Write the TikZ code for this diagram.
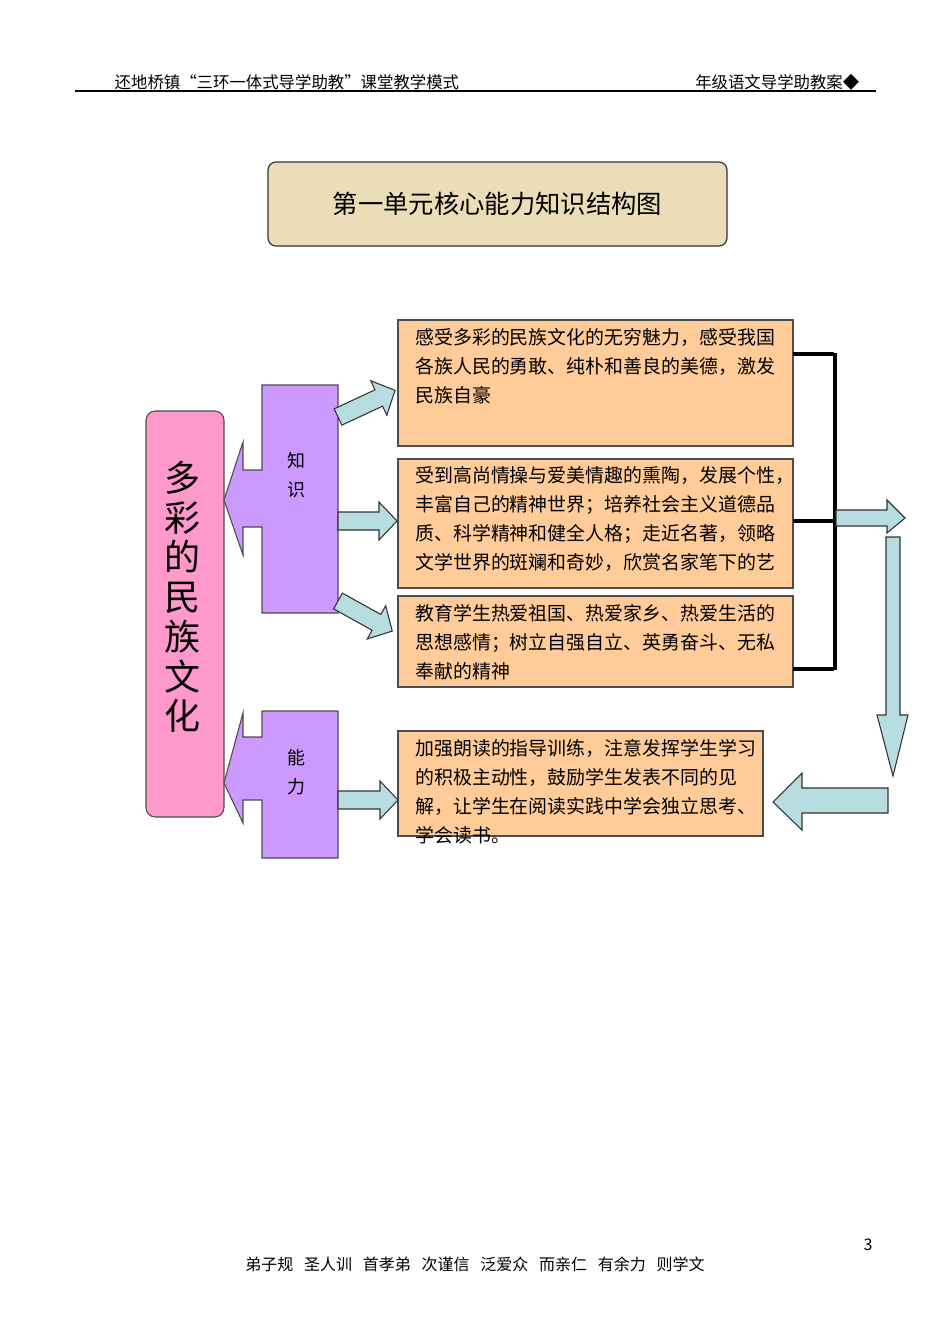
\documentclass[tikz,border=0pt]{standalone}
\usepackage{fontspec}
\setmainfont{Noto Sans CJK SC}
\usetikzlibrary{calc}
\definecolor{tan}{HTML}{EBDDB8}
\definecolor{pinkc}{HTML}{FF99CC}
\definecolor{purp}{HTML}{CC99FF}
\definecolor{orng}{HTML}{FFCC99}
\definecolor{lblue}{HTML}{B7DDE0}
\newcommand\barrow[4]{% shift, angle, length, name
\begin{scope}[shift={#1},rotate=#2]
\draw[barr] (0,-9) -- ({#3-18},-9) -- ({#3-18},-19) -- (#3,0) -- ({#3-18},19) -- ({#3-18},9) -- (0,9) -- cycle;
\coordinate (#4) at (#3,0);
\end{scope}}
\begin{document}
\begin{tikzpicture}[x=0.75pt,y=-0.75pt,
 txt/.style={font=\fontsize{14.2pt}{21.8pt}\selectfont,align=left,anchor=north west,inner sep=0},
 obox/.style={draw=black!70,fill=orng,line width=0.8pt},
 barr/.style={draw=black!80,fill=lblue,line width=0.8pt},
 callout/.style={draw=black!70,fill=purp,line width=0.8pt},
 brk/.style={line width=2.4pt}]
\useasboundingbox (0,0) rectangle (950,1343);
% header
\node[anchor=west,font=\fontsize{12.3pt}{13pt}\selectfont] (hl) at (110,82) {还地桥镇“三环一体式导学助教”课堂教学模式};
\node[anchor=east,font=\fontsize{12.3pt}{13pt}\selectfont] (hr) at (864,82) {年级语文导学助教案◆};
\draw[line width=1pt] (75,91) -- (876,91);
% title
\node[draw=black!80,fill=tan,rounded corners=6pt,line width=0.9pt,minimum width=459*0.75pt,minimum height=84*0.75pt,font=\fontsize{19pt}{20pt}\selectfont] (title) at (497.5,204) {第一单元核心能力知识结构图};
% pink box
\node[draw=black!70,fill=pinkc,rounded corners=7pt,line width=0.8pt,minimum width=78*0.75pt,minimum height=406*0.75pt] (main) at (185,614) {};
\node[font=\fontsize{27pt}{29.8pt}\selectfont,align=center] (mt) at (182,597) {多\\彩\\的\\民\\族\\文\\化};
% callouts
\draw[callout] (262,385) -- (338,385) -- (338,613) -- (262,613) -- (262,527) -- (243,527) -- (243,555) -- (224,500) -- (243,442) -- (243,470) -- (262,470) -- cycle;
\node[font=\fontsize{13.5pt}{22pt}\selectfont,align=center] (zs) at (296,475) {知\\识};
\draw[callout] (262,711) -- (338,711) -- (338,858) -- (262,858) -- (262,800) -- (243,800) -- (243,823) -- (224,783) -- (243,713) -- (243,737) -- (262,737) -- cycle;
\node[font=\fontsize{13.5pt}{22pt}\selectfont,align=center] (nl) at (296,772) {能\\力};
% orange boxes
\draw[obox] (398,320) rectangle (793,446);
\node[txt] (t1) at (415,328) {感受多彩的民族文化的无穷魅力，感受我国\\各族人民的勇敢、纯朴和善良的美德，激发\\民族自豪};
\draw[obox] (398,459) rectangle (793,588);
\node[txt] (t2) at (415,466) {受到高尚情操与爱美情趣的熏陶，发展个性，\\丰富自己的精神世界；培养社会主义道德品\\质、科学精神和健全人格；走近名著，领略\\文学世界的斑斓和奇妙，欣赏名家笔下的艺};
\draw[obox] (398,596) rectangle (793,687);
\node[txt] (t3) at (415,604) {教育学生热爱祖国、热爱家乡、热爱生活的\\思想感情；树立自强自立、英勇奋斗、无私\\奉献的精神};
\draw[obox] (398,731) rectangle (763,836);
\node[txt] (t4) at (415,739) {加强朗读的指导训练，注意发挥学生学习\\的积极主动性，鼓励学生发表不同的见\\解，让学生在阅读实践中学会独立思考、\\学会读书。};
% small arrows
\barrow{(338,417)}{25}{63}{a1}
\barrow{(338,521)}{0}{59}{a2}
\barrow{(338,601)}{-29}{62}{a3}
\barrow{(338,800)}{0}{60}{a4}
% bracket
\draw[brk] (793,354) -- (834,354);
\draw[brk] (793,521) -- (834,521);
\draw[brk] (793,669) -- (834,669);
\draw[brk] (835,353) -- (835,670);
% big arrows
\draw[barr] (836,510) -- (887,510) -- (887,500) -- (905,518) -- (887,533) -- (887,526) -- (836,526) -- cycle;
\draw[barr] (886,537) -- (900,537) -- (900,715) -- (908,715) -- (893,776) -- (877,715) -- (886,715) -- cycle;
\draw[barr] (888,788) -- (802,788) -- (802,773) -- (773,802) -- (802,830) -- (802,813) -- (888,813) -- cycle;
% footer
\node[font=\fontsize{12pt}{13pt}\selectfont] (pg) at (868,1245) {3};
\node[font=\fontsize{12pt}{13pt}\selectfont] (ft) at (475,1264) {弟子规\ \ \ 圣人训\ \ \ 首孝弟\ \ \ 次谨信\ \ \ 泛爱众\ \ \ 而亲仁\ \ \ 有余力\ \ \ 则学文};
\end{tikzpicture}
\end{document}
